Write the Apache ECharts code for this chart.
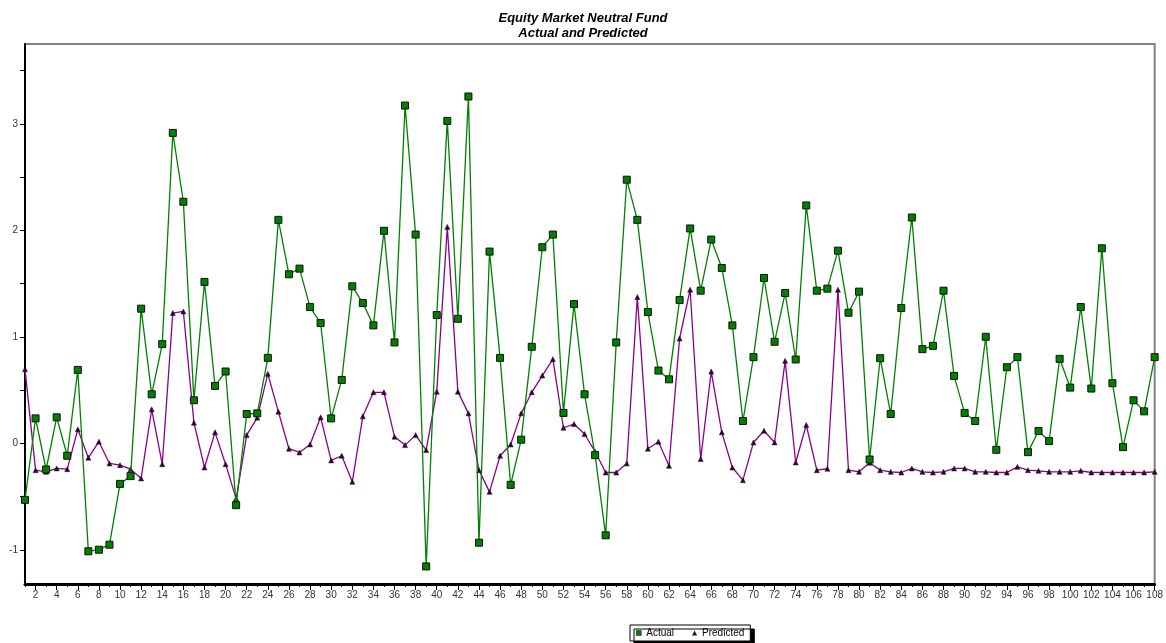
<!DOCTYPE html>
<html>
<head>
<meta charset="utf-8">
<script src="https://cdn.jsdelivr.net/npm/echarts@6/dist/echarts.min.js"></script>
<style>
html,body{margin:0;padding:0;background:#fff;}
#chart{width:1166px;height:643px;}
</style>
</head>
<body>
<div id="chart"></div>
<script>
const titleText = 'Equity Market Neutral Fund\nActual and Predicted';
const seriesNames = ['Actual', 'Predicted'];
const categories = Array.from({length: 108}, (_, i) => String(i + 1));
const yTickValues = [-1, -0.5, 0, 0.5, 1, 1.5, 2, 2.5, 3, 3.5];
const yLabelValues = [-1, 0, 1, 2, 3];

const actual = [
  -0.53, 0.235, -0.245, 0.245, -0.116, 0.69, -1.013, -0.998, -0.951, -0.38,
  -0.307, 1.265, 0.461, 0.932, 2.915, 2.269, 0.405, 1.516, 0.54, 0.675,
  -0.58, 0.276, 0.282, 0.803, 2.099, 1.588, 1.641, 1.28, 1.13, 0.235,
  0.596, 1.475, 1.318, 1.108, 1.996, 0.948, 3.172, 1.961, -1.155, 1.205,
  3.028, 1.17, 3.257, -0.932, 1.801, 0.803, -0.389, 0.035, 0.907, 1.842,
  1.961, 0.286, 1.308, 0.461, -0.11, -0.863, 0.948, 2.476, 2.099, 1.233,
  0.684, 0.602, 1.346, 2.018, 1.434, 1.914, 1.647, 1.108, 0.21, 0.81,
  1.553, 0.954, 1.412, 0.788, 2.234, 1.434, 1.453, 1.81, 1.227, 1.425,
  -0.151, 0.8, 0.276, 1.271, 2.121, 0.885, 0.916, 1.434, 0.634, 0.286,
  0.21, 1.001, -0.06, 0.715, 0.81, -0.082, 0.116, 0.022, 0.794, 0.524,
  1.28, 0.515, 1.832, 0.565, -0.035, 0.405, 0.301, 0.81
];
const predicted = [
  0.697, -0.251, -0.267, -0.235, -0.242, 0.132, -0.135, 0.016, -0.188, -0.204,
  -0.242, -0.329, 0.32, -0.195, 1.224, 1.239, 0.195, -0.226, 0.104, -0.195,
  -0.518, 0.078, 0.242, 0.653, 0.298, -0.05, -0.085, -0.01, 0.245, -0.16,
  -0.116, -0.361, 0.254, 0.48, 0.48, 0.063, -0.016, 0.078, -0.063, 0.486,
  2.033, 0.486, 0.282, -0.251, -0.455, -0.116, -0.01, 0.282, 0.48, 0.637,
  0.791, 0.147, 0.182, 0.088, -0.078, -0.273, -0.273, -0.188, 1.374, -0.05,
  0.016, -0.21, 0.985, 1.443, -0.147, 0.675, 0.104, -0.226, -0.345, 0.009,
  0.119, 0.009, 0.775, -0.179, 0.173, -0.251, -0.238, 1.443, -0.251, -0.267,
  -0.182, -0.251, -0.267, -0.273, -0.235, -0.267, -0.273, -0.267, -0.235, -0.235,
  -0.267, -0.267, -0.273, -0.273, -0.22, -0.251, -0.257, -0.267, -0.267, -0.267,
  -0.257, -0.273, -0.273, -0.273, -0.273, -0.273, -0.273, -0.267
];

const chart = echarts.init(document.getElementById('chart'), null, {renderer: 'canvas'});
const font = 'Liberation Sans, Arial, sans-serif';
chart.setOption({
  animation: false,
  backgroundColor: '#ffffff',
  title: {
    text: titleText,
    left: 'center',
    top: 6,
    textStyle: {
      fontFamily: font, fontSize: 13, fontWeight: 'bold', fontStyle: 'italic',
      color: '#000', lineHeight: 15
    }
  },
  legend: {
    data: [
      {name: seriesNames[0], icon: 'rect', itemStyle: {borderWidth: 0.5}},
      {name: seriesNames[1], icon: 'triangle', itemStyle: {borderWidth: 0}}
    ],
    left: 630,
    top: 625,
    itemWidth: 5,
    itemHeight: 5,
    itemGap: 18,
    padding: [3, 6, 3, 6],
    backgroundColor: '#fff',
    borderColor: '#000',
    borderWidth: 1,
    borderRadius: 0,
    shadowColor: '#000',
    shadowOffsetX: 4,
    shadowOffsetY: 4,
    shadowBlur: 0,
    textStyle: {fontFamily: font, fontSize: 10, color: '#000'}
  },
  grid: {
    left: 25, right: 8, top: 44, bottom: 59,
    show: true,
    borderColor: '#808080',
    borderWidth: 2,
    backgroundColor: 'transparent'
  },
  xAxis: [
    {
      type: 'category',
      data: categories,
      boundaryGap: false,
      axisLine: {onZero: false, lineStyle: {color: '#000', width: 3}},
      axisTick: {show: true, interval: 0, length: 3, lineStyle: {color: '#000', width: 1}},
      axisLabel: {
        interval: function (idx) { return idx % 2 === 1; },
        fontFamily: font, fontSize: 10, color: '#333', margin: 6
      },
      splitLine: {show: false}
    },
    {
      type: 'category',
      data: categories,
      boundaryGap: false,
      position: 'bottom',
      axisLine: {show: false, onZero: false},
      axisTick: {show: true, interval: function (idx) { return idx % 2 === 1; }, length: 6, lineStyle: {color: '#000', width: 1}},
      axisLabel: {show: false},
      splitLine: {show: false}
    }
  ],
  yAxis: {
    type: 'value',
    min: -1.32,
    max: 3.75,
    axisLine: {show: true, onZero: false, lineStyle: {color: '#000', width: 2}},
    axisTick: {show: true, customValues: yTickValues, length: 5, lineStyle: {color: '#000'}},
    axisLabel: {customValues: yLabelValues, fontFamily: font, fontSize: 10, color: '#333', margin: 7},
    splitLine: {show: false}
  },
  series: [
    {
      name: seriesNames[0],
      type: 'line',
      data: actual,
      symbol: 'rect',
      symbolSize: 7,
      showAllSymbol: true,
      clip: false,
      lineStyle: {color: '#008000', width: 1.3},
      itemStyle: {color: '#008000', borderColor: '#111', borderWidth: 1},
      z: 3
    },
    {
      name: seriesNames[1],
      type: 'line',
      data: predicted,
      symbol: 'triangle',
      symbolSize: 5,
      showAllSymbol: true,
      clip: false,
      lineStyle: {color: '#8b008b', width: 1.3},
      itemStyle: {color: '#2a0a2a', borderColor: '#2a0a2a', borderWidth: 0.5},
      z: 2
    }
  ]
});
</script>
</body>
</html>
